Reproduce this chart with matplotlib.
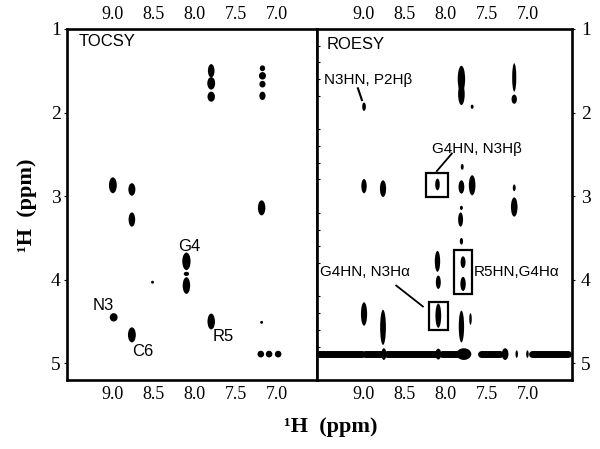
import matplotlib
matplotlib.use("Agg")
import matplotlib.pyplot as plt
from matplotlib.patches import Ellipse, Rectangle

# ticks
x_ticks = [9.0, 8.5, 8.0, 7.5, 7.0]
y_ticks = [1, 2, 3, 4, 5]

# TOCSY peaks: x (ppm), y (ppm), width, height
tocsy_x = [7.80, 7.80, 7.80, 7.18, 7.18, 7.18, 7.18,
           8.99, 8.76, 8.76, 7.19, 8.51,
           8.10, 8.10, 8.10, 8.98, 8.76, 7.80, 7.19,
           7.20, 7.10, 6.99]
tocsy_y = [1.50, 1.65, 1.81, 1.47, 1.56, 1.66, 1.80,
           2.87, 2.92, 3.28, 3.14, 4.03,
           3.78, 3.93, 4.07, 4.45, 4.66, 4.50, 4.51,
           4.89, 4.89, 4.89]
tocsy_w = [0.08, 0.095, 0.09, 0.065, 0.085, 0.075, 0.075,
           0.095, 0.085, 0.08, 0.09, 0.035,
           0.10, 0.065, 0.09, 0.095, 0.095, 0.09, 0.035,
           0.08, 0.08, 0.08]
tocsy_h = [0.16, 0.15, 0.12, 0.07, 0.09, 0.08, 0.10,
           0.19, 0.15, 0.17, 0.18, 0.035,
           0.21, 0.05, 0.20, 0.10, 0.18, 0.19, 0.035,
           0.08, 0.08, 0.08]

# ROESY peaks
roesy_x = [8.99, 7.81, 7.81, 7.68, 7.17, 7.17,
           8.99, 8.76, 8.10, 7.80, 7.81, 7.68, 7.17, 7.17,
           7.81, 7.82, 7.81, 8.10, 8.09, 7.79, 7.79,
           8.09, 8.99, 8.76, 7.81, 7.70]
roesy_y = [1.93, 1.60, 1.78, 1.93, 1.58, 1.84,
           2.88, 2.91, 2.86, 2.65, 2.89, 2.87, 2.90, 3.13,
           3.14, 3.28, 3.54, 3.78, 4.03, 3.79, 4.05,
           4.43, 4.41, 4.57, 4.56, 4.47]
roesy_w = [0.045, 0.09, 0.08, 0.035, 0.05, 0.065,
           0.065, 0.075, 0.055, 0.035, 0.07, 0.08, 0.035, 0.08,
           0.035, 0.06, 0.04, 0.065, 0.06, 0.06, 0.065,
           0.07, 0.075, 0.07, 0.065, 0.03]
roesy_h = [0.10, 0.32, 0.26, 0.05, 0.34, 0.11,
           0.17, 0.20, 0.14, 0.07, 0.16, 0.24, 0.08, 0.23,
           0.05, 0.17, 0.08, 0.25, 0.16, 0.14, 0.17,
           0.29, 0.28, 0.42, 0.38, 0.14]

# water / noise ridge in ROESY at 4.89 ppm: segments (start, end) and spots
ridge_y = 4.89
ridge_start = [9.54, 8.98, 8.71, 8.04, 7.57, 6.95]
ridge_end = [9.01, 8.79, 8.13, 7.86, 7.34, 6.52]
spot_x = [8.75, 8.09, 7.78, 7.28, 7.14, 7.01]
spot_w = [0.06, 0.07, 0.18, 0.08, 0.03, 0.03]
spot_h = [0.14, 0.13, 0.14, 0.14, 0.09, 0.09]

# boxes (x0, x1, y0, y1)
box_x0 = [8.24, 7.90, 8.20]
box_x1 = [7.97, 7.68, 7.97]
box_y0 = [2.72, 3.65, 4.27]
box_y1 = [3.01, 4.17, 4.60]

plt.rcParams['font.family'] = ['Liberation Serif', 'DejaVu Serif']
lab_font = ['Liberation Sans', 'DejaVu Sans']

fig = plt.figure(figsize=(6.0, 4.49), dpi=100)
ax1 = fig.add_axes([67/600, 1-380/449, 250/600, 351/449])
ax2 = fig.add_axes([317/600, 1-380/449, 255/600, 351/449])

for ax in (ax1, ax2):
    ax.set_ylim(5.2, 1.0)
    ax.set_xticks(x_ticks)
    ax.set_xticklabels(["%.1f" % v for v in x_ticks])
    ax.set_yticks(y_ticks)
    ax.tick_params(axis='x', top=True, labeltop=True, bottom=True,
                   labelbottom=True, length=0, pad=4, labelsize=13)
    for s in ax.spines.values():
        s.set_linewidth(1.9)
ax1.set_xlim(9.545, 6.52)
ax2.set_xlim(9.56, 6.47)

ax1.tick_params(axis='y', left=True, labelleft=True, right=False,
                direction='out', length=2.5, pad=2, labelsize=14)
ax2.tick_params(axis='y', left=False, labelleft=False, right=True,
                labelright=True, direction='out', length=2.5, pad=4, labelsize=14)
ax2.set_yticks([1.2, 1.4, 1.6, 1.8, 2.2, 2.4, 2.6, 2.8, 3.2, 3.4, 3.6, 3.8,
                4.2, 4.4, 4.6, 4.8], minor=True)
ax2.tick_params(axis='y', which='minor', left=True, right=False,
                direction='in', length=2.5, width=0.8)

for i in range(len(tocsy_x)):
    ax1.add_patch(Ellipse((tocsy_x[i], tocsy_y[i]), tocsy_w[i], tocsy_h[i],
                          color='black', lw=0))
for i in range(len(roesy_x)):
    ax2.add_patch(Ellipse((roesy_x[i], roesy_y[i]), roesy_w[i], roesy_h[i],
                          color='black', lw=0))

for i in range(len(ridge_start)):
    ax2.plot([ridge_start[i], ridge_end[i]], [ridge_y, ridge_y], color='black',
             lw=5.0, solid_capstyle='round')
for i in range(len(spot_x)):
    ax2.add_patch(Ellipse((spot_x[i], ridge_y), spot_w[i], spot_h[i],
                          color='black', lw=0))

for i in range(len(box_x0)):
    ax2.add_patch(Rectangle((box_x0[i], box_y0[i]), box_x1[i]-box_x0[i],
                            box_y1[i]-box_y0[i], fill=False, ec='black', lw=1.6))

# labels TOCSY
ax1.text(9.41, 1.155, "TOCSY", family=lab_font, fontsize=12, ha='left', va='center')
ax1.text(8.06, 3.60, "G4", family=lab_font, fontsize=12, ha='center', va='center')
ax1.text(9.11, 4.31, "N3", family=lab_font, fontsize=12, ha='center', va='center')
ax1.text(8.63, 4.86, "C6", family=lab_font, fontsize=12, ha='center', va='center')
ax1.text(7.66, 4.68, "R5", family=lab_font, fontsize=12, ha='center', va='center')

# labels ROESY
ax2.text(9.44, 1.19, "ROESY", family=lab_font, fontsize=12, ha='left', va='center')
ax2.text(9.48, 1.61, "N3HN, P2Hβ", family=lab_font, fontsize=11, ha='left', va='center')
ax2.text(8.17, 2.43, "G4HN, N3Hβ", family=lab_font, fontsize=11, ha='left', va='center')
ax2.text(9.52, 3.91, "G4HN, N3Hα", family=lab_font, fontsize=11, ha='left', va='center')
ax2.text(7.66, 3.91, "R5HN,G4Hα", family=lab_font, fontsize=11, ha='left', va='center')
ax2.plot([9.064, 9.016], [1.71, 1.85], color='black', lw=1.5)
ax2.plot([7.926, 8.108], [2.49, 2.70], color='black', lw=1.3)
ax2.plot([8.60, 8.277], [4.07, 4.32], color='black', lw=1.3)

fig.text(27/600, 1-205/449, "¹H  (ppm)", rotation=90, fontsize=16,
         fontweight='bold', ha='center', va='center')
fig.text(331/600, 1-427/449, "¹H  (ppm)", fontsize=16,
         fontweight='bold', ha='center', va='center')

fig.savefig("out.png", dpi=100)
